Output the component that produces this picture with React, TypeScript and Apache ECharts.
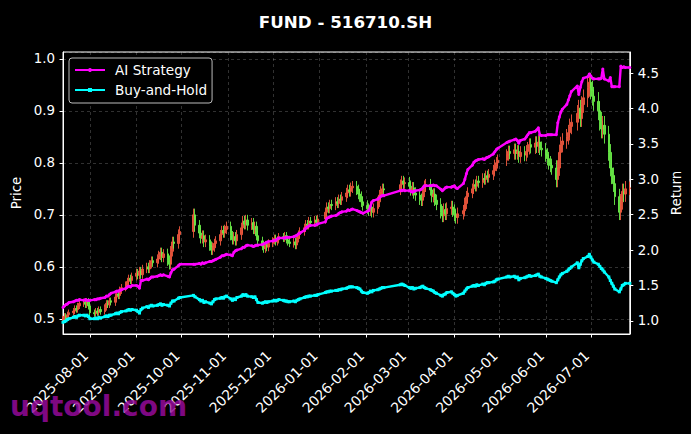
import React, { useEffect, useRef } from "react";
import * as echarts from "echarts";

// ---- data ----
const firstMonday = [2025, 6, 14]; // 2025-07-14 (UTC y, m0, d)
const xMin = "2025-07-14";
const xMax = "2026-07-27";
const holidays = [
  "2025-10-01", "2025-10-02", "2025-10-03", "2025-10-06", "2025-10-07", "2025-10-08",
  "2026-01-01", "2026-01-02",
  "2026-02-16", "2026-02-17", "2026-02-18", "2026-02-19", "2026-02-20", "2026-02-23",
  "2026-04-06", "2026-05-01", "2026-05-04", "2026-05-05", "2026-06-19",
];
const firstOpen = 0.498;

// daily closes, one row per trading week
const closeWeeks: number[][] = [
  [0.500, 0.505, 0.502, 0.508, 0.512],
  [0.515, 0.520, 0.518, 0.525, 0.530],
  [0.532, 0.528, 0.533, 0.525, 0.512],
  [0.510, 0.515, 0.512, 0.518, 0.514],
  [0.522, 0.530, 0.527, 0.535, 0.532],
  [0.542, 0.548, 0.545, 0.555, 0.560],
  [0.565, 0.572, 0.578, 0.574, 0.582],
  [0.588, 0.584, 0.592, 0.585, 0.596],
  [0.600, 0.596, 0.605, 0.612, 0.608],
  [0.615, 0.622, 0.628, 0.618, 0.625],
  [0.612, 0.605, 0.630, 0.648, 0.645],
  [0.662, 0.668],
  [0.700, 0.680],
  [0.665, 0.655, 0.660, 0.648, 0.652],
  [0.640, 0.632, 0.638, 0.645, 0.650],
  [0.662, 0.670, 0.665, 0.672, 0.678],
  [0.660, 0.652, 0.658, 0.650, 0.662],
  [0.675, 0.688, 0.682, 0.690, 0.680],
  [0.685, 0.672, 0.678, 0.660, 0.650],
  [0.640, 0.635, 0.642, 0.638, 0.645],
  [0.650, 0.655, 0.648, 0.652, 0.658],
  [0.655, 0.660, 0.652, 0.648, 0.645],
  [0.648, 0.642, 0.655, 0.662, 0.668],
  [0.675, 0.682, 0.680, 0.688, 0.685],
  [0.690, 0.686, 0.692],
  [0.705, 0.715, 0.712, 0.720, 0.718],
  [0.725, 0.722, 0.730, 0.728, 0.735],
  [0.742, 0.748, 0.745, 0.752, 0.755],
  [0.748, 0.740, 0.735, 0.725, 0.718],
  [0.712, 0.708, 0.715, 0.705, 0.712],
  [0.725, 0.738, 0.745, 0.750, 0.748],
  [],
  [0.758, 0.765, 0.760, 0.762],
  [0.755, 0.748, 0.752, 0.742, 0.738],
  [0.730, 0.728, 0.745, 0.755, 0.758],
  [0.748, 0.735, 0.740, 0.728, 0.720],
  [0.705, 0.698, 0.710, 0.702, 0.712],
  [0.715, 0.708, 0.700, 0.695, 0.702],
  [0.708, 0.722, 0.735, 0.742],
  [0.750, 0.758, 0.755, 0.765, 0.762],
  [0.770, 0.768, 0.775, 0.772, 0.778],
  [0.785, 0.795, 0.800, 0.805],
  [0.815, 0.822, 0.818],
  [0.825, 0.818, 0.822, 0.812, 0.820],
  [0.815, 0.822, 0.828, 0.835, 0.830],
  [0.838, 0.832, 0.840, 0.828, 0.825],
  [0.815, 0.808, 0.800, 0.795, 0.790],
  [0.768, 0.790, 0.820, 0.835, 0.842],
  [0.850, 0.858, 0.870, 0.878],
  [0.895, 0.905, 0.885, 0.912, 0.925],
  [0.945, 0.955, 0.940, 0.928, 0.918],
  [0.900, 0.880, 0.865, 0.872, 0.855],
  [0.820, 0.790, 0.775, 0.760, 0.735],
  [0.705, 0.725, 0.745, 0.740, 0.750],
  [0.752],
];

// typical wick length per week
const weekWicks = [
  0.006, 0.006, 0.007, 0.006, 0.006, 0.007, 0.007, 0.008, 0.008, 0.009,
  0.010, 0.010, 0.012, 0.010, 0.009, 0.009, 0.009, 0.010, 0.009, 0.008,
  0.007, 0.007, 0.008, 0.008, 0.008, 0.009, 0.009, 0.010, 0.010, 0.010,
  0.010, 0.000, 0.010, 0.011, 0.011, 0.011, 0.012, 0.012, 0.011, 0.010,
  0.010, 0.011, 0.011, 0.012, 0.012, 0.013, 0.013, 0.015, 0.015, 0.016,
  0.018, 0.018, 0.016, 0.015, 0.012,
];

// AI Strategy cumulative return, per trading day
const strategyWeeks: number[][] = [
  [1.19, 1.21, 1.23, 1.24, 1.26],
  [1.27, 1.28, 1.29, 1.29, 1.30],
  [1.29, 1.30, 1.29, 1.29, 1.29],
  [1.30, 1.30, 1.31, 1.31, 1.32],
  [1.33, 1.35, 1.35, 1.37, 1.39],
  [1.41, 1.42, 1.42, 1.43, 1.44],
  [1.46, 1.48, 1.49, 1.48, 1.50],
  [1.50, 1.49, 1.46, 1.57, 1.57],
  [1.59, 1.58, 1.60, 1.62, 1.62],
  [1.63, 1.64, 1.65, 1.64, 1.65],
  [1.63, 1.62, 1.68, 1.72, 1.73],
  [1.78, 1.80],
  [1.80, 1.80],
  [1.81, 1.80, 1.82, 1.81, 1.82],
  [1.84, 1.84, 1.85, 1.86, 1.87],
  [1.90, 1.92, 1.92, 1.93, 1.94],
  [1.93, 1.92, 1.97, 1.99, 2.00],
  [2.02, 2.04, 2.04, 2.06, 2.07],
  [2.06, 2.05, 2.06, 2.07, 2.07],
  [2.08, 2.09, 2.10, 2.11, 2.12],
  [2.13, 2.14, 2.14, 2.16, 2.17],
  [2.17, 2.17, 2.18, 2.18, 2.18],
  [2.19, 2.20, 2.21, 2.23, 2.24],
  [2.28, 2.31, 2.33, 2.34, 2.35],
  [2.35, 2.36, 2.37],
  [2.40, 2.45, 2.46, 2.47, 2.48],
  [2.49, 2.50, 2.52, 2.53, 2.54],
  [2.55, 2.57, 2.56, 2.57, 2.58],
  [2.56, 2.55, 2.54, 2.53, 2.52],
  [2.55, 2.56, 2.62, 2.68, 2.70],
  [2.72, 2.74, 2.76, 2.77, 2.77],
  [],
  [2.84, 2.84, 2.85, 2.84],
  [2.84, 2.83, 2.82, 2.83, 2.84],
  [2.85, 2.86, 2.88, 2.91, 2.91],
  [2.91, 2.91, 2.92, 2.91, 2.91],
  [2.86, 2.84, 2.86, 2.88, 2.89],
  [2.89, 2.90, 2.91, 2.88, 2.87],
  [2.94, 3.00, 3.08, 3.14],
  [3.20, 3.24, 3.26, 3.27, 3.28],
  [3.29, 3.28, 3.30, 3.31, 3.32],
  [3.36, 3.39, 3.42, 3.44],
  [3.52, 3.53, 3.54],
  [3.56, 3.57, 3.55, 3.51, 3.55],
  [3.57, 3.60, 3.63, 3.66, 3.66],
  [3.68, 3.70, 3.73, 3.63, 3.62],
  [3.62, 3.63, 3.63, 3.63, 3.63],
  [3.63, 3.80, 3.88, 3.95, 3.99],
  [4.06, 4.12, 4.18, 4.24],
  [4.32, 4.20, 4.30, 4.38, 4.43],
  [4.45, 4.49, 4.46, 4.43, 4.42],
  [4.42, 4.42, 4.43, 4.56, 4.42],
  [4.39, 4.44, 4.31, 4.31, 4.31],
  [4.31, 4.60, 4.58, 4.59, 4.58],
  [4.58],
];

// Buy-and-Hold cumulative return, per trading day
const holdWeeks: number[][] = [
  [0.98, 0.99, 1.00, 1.02, 1.03],
  [1.05, 1.06, 1.05, 1.07, 1.08],
  [1.08, 1.07, 1.08, 1.06, 1.03],
  [1.03, 1.04, 1.03, 1.05, 1.04],
  [1.06, 1.07, 1.06, 1.08, 1.08],
  [1.10, 1.11, 1.10, 1.12, 1.13],
  [1.14, 1.15, 1.16, 1.15, 1.16],
  [1.15, 1.13, 1.11, 1.16, 1.18],
  [1.20, 1.19, 1.21, 1.22, 1.21],
  [1.22, 1.23, 1.24, 1.22, 1.23],
  [1.22, 1.21, 1.25, 1.28, 1.28],
  [1.32, 1.33],
  [1.36, 1.34],
  [1.30, 1.28, 1.29, 1.26, 1.27],
  [1.25, 1.24, 1.27, 1.30, 1.31],
  [1.32, 1.33, 1.32, 1.34, 1.35],
  [1.31, 1.29, 1.31, 1.30, 1.33],
  [1.35, 1.37, 1.36, 1.37, 1.35],
  [1.34, 1.33, 1.34, 1.30, 1.26],
  [1.25, 1.26, 1.27, 1.26, 1.27],
  [1.28, 1.29, 1.28, 1.29, 1.30],
  [1.29, 1.28, 1.28, 1.27, 1.27],
  [1.28, 1.27, 1.29, 1.30, 1.31],
  [1.33, 1.34, 1.34, 1.35, 1.35],
  [1.36, 1.36, 1.37],
  [1.40, 1.41, 1.41, 1.42, 1.42],
  [1.43, 1.43, 1.44, 1.44, 1.45],
  [1.46, 1.47, 1.48, 1.48, 1.48],
  [1.47, 1.46, 1.45, 1.42, 1.40],
  [1.39, 1.40, 1.42, 1.41, 1.43],
  [1.44, 1.45, 1.46, 1.47, 1.47],
  [],
  [1.51, 1.52, 1.51, 1.50],
  [1.47, 1.46, 1.47, 1.45, 1.46],
  [1.47, 1.48, 1.49, 1.47, 1.46],
  [1.44, 1.43, 1.42, 1.40, 1.39],
  [1.36, 1.35, 1.37, 1.38, 1.40],
  [1.41, 1.39, 1.37, 1.35, 1.36],
  [1.39, 1.42, 1.45, 1.47],
  [1.49, 1.50, 1.49, 1.51, 1.50],
  [1.52, 1.51, 1.53, 1.54, 1.54],
  [1.55, 1.56, 1.58, 1.59],
  [1.62, 1.63, 1.62],
  [1.63, 1.61, 1.62, 1.58, 1.60],
  [1.61, 1.62, 1.63, 1.64, 1.63],
  [1.64, 1.65, 1.66, 1.63, 1.62],
  [1.60, 1.59, 1.58, 1.57, 1.56],
  [1.54, 1.58, 1.62, 1.65, 1.67],
  [1.70, 1.72, 1.74, 1.76],
  [1.82, 1.75, 1.80, 1.85, 1.88],
  [1.91, 1.94, 1.90, 1.86, 1.83],
  [1.80, 1.77, 1.74, 1.72, 1.69],
  [1.62, 1.57, 1.53, 1.49, 1.45],
  [1.41, 1.45, 1.50, 1.51, 1.53],
  [1.53],
];

const titleText = "FUND - 516710.SH";
const seriesNames = ["AI Strategy", "Buy-and-Hold"];
const watermark = "uqtool.com";

// ---- build daily tables ----
const DAY = 86400000;
function fmtUTC(t: number) {
  const d = new Date(t);
  return (
    d.getUTCFullYear() +
    "-" +
    String(d.getUTCMonth() + 1).padStart(2, "0") +
    "-" +
    String(d.getUTCDate()).padStart(2, "0")
  );
}
const dates: string[] = [];
const closes: number[] = [];
const wicks: number[] = [];
const strategy: number[] = [];
const hold: number[] = [];
{
  const base = Date.UTC(firstMonday[0], firstMonday[1], firstMonday[2]);
  closeWeeks.forEach((row, w) => {
    let k = 0;
    for (let d = 0; d < 5 && k < row.length; d++) {
      const s = fmtUTC(base + (w * 7 + d) * DAY);
      if (holidays.includes(s)) continue;
      dates.push(s);
      closes.push(row[k]);
      wicks.push(weekWicks[w] ?? 0.01);
      strategy.push(strategyWeeks[w]?.[k] ?? strategyWeeks[w]?.[strategyWeeks[w].length - 1]);
      hold.push(holdWeeks[w]?.[k] ?? holdWeeks[w]?.[holdWeeks[w].length - 1]);
      k++;
    }
  });
}

const FONT = "DejaVu Sans";
const FS = 13.9;
const FS_Y = 13.4;
const RED = "#f0583e";
const GREEN = "#6aee48";

export default function App() {
  const ref = useRef<HTMLDivElement>(null);
  useEffect(() => {
    if (!ref.current) return;
    const chart = echarts.init(ref.current, null, { renderer: "svg" });

    const candles = dates.map((d, i) => {
      const o = i === 0 ? firstOpen : closes[i - 1];
      const c = closes[i];
      const w = wicks[i];
      return [d, o, c, Math.min(o, c) - w, Math.max(o, c) + w];
    });
    const stratData = dates.map((d, i) => [d, strategy[i]]);
    const holdData = dates.map((d, i) => [d, hold[i]]);

    const gridLine = {
      show: true,
      lineStyle: { color: "rgba(255,255,255,0.28)", type: [3, 3] as any, width: 0.7 },
    };

    chart.setOption({
      animation: false,
      backgroundColor: "#000",
      textStyle: { fontFamily: FONT },
      title: {
        text: titleText,
        left: "center",
        top: 8,
        textStyle: { color: "#fff", fontSize: 16.7, fontWeight: "bold", fontFamily: FONT },
      },
      legend: {
        orient: "vertical",
        left: 69,
        top: 58,
        padding: [5, 5, 6, 5],
        itemWidth: 30,
        itemHeight: 5,
        itemGap: 6,
        backgroundColor: "#000",
        borderColor: "rgba(220,220,220,0.85)",
        borderWidth: 1,
        borderRadius: 3,
        textStyle: { color: "#fff", fontSize: 13.6, fontFamily: FONT, padding: [0, 0, 0, 5] },
        data: seriesNames,
      },
      grid: {
        left: 63,
        top: 52,
        width: 568,
        height: 282,
        show: true,
        borderColor: "#fff",
        borderWidth: 1,
        backgroundColor: "#000",
        containLabel: false,
      },
      xAxis: {
        type: "time",
        min: xMin,
        max: xMax,
        splitNumber: 12,
        minInterval: 28 * DAY,
        maxInterval: 31 * DAY,
        axisLine: { show: true, lineStyle: { color: "#fff", width: 1 } },
        axisTick: { show: true, length: 3.5, lineStyle: { color: "#fff" } },
        minorTick: { show: false },
        splitLine: gridLine,
        axisLabel: {
          color: "#fff",
          fontSize: FS,
          fontFamily: FONT,
          rotate: 45,
          margin: 15,
          padding: [0, 6, 0, 0],
          hideOverlap: false,
          formatter: (v: number) => {
            const d = new Date(v);
            return (
              d.getFullYear() +
              "-" +
              String(d.getMonth() + 1).padStart(2, "0") +
              "-" +
              String(d.getDate()).padStart(2, "0")
            );
          },
        },
      },
      yAxis: [
        {
          type: "value",
          position: "left",
          min: 0.471,
          max: 1.013,
          splitNumber: 5,
          name: "Price",
          nameLocation: "middle",
          nameRotate: 90,
          nameGap: 38,
          nameTextStyle: { color: "#fff", fontSize: FS_Y, fontFamily: FONT },
          axisLine: { show: true, lineStyle: { color: "#fff", width: 1 } },
          axisTick: { show: true, length: 3.5, lineStyle: { color: "#fff" } },
          splitLine: gridLine,
          axisLabel: {
            color: "#fff",
            fontSize: FS_Y,
            fontFamily: FONT,
            margin: 8,
            showMinLabel: false,
            showMaxLabel: false,
            formatter: (v: number) => v.toFixed(1),
          },
        },
        {
          type: "value",
          position: "right",
          min: 0.814,
          max: 4.8,
          splitNumber: 8,
          name: "Return",
          nameLocation: "middle",
          nameRotate: 90,
          nameGap: 31,
          nameTextStyle: { color: "#fff", fontSize: FS_Y, fontFamily: FONT },
          axisLine: { show: true, lineStyle: { color: "#fff", width: 1 } },
          axisTick: { show: true, length: 3.5, lineStyle: { color: "#fff" } },
          splitLine: { show: false },
          axisLabel: {
            color: "#fff",
            fontSize: FS_Y,
            fontFamily: FONT,
            margin: 8,
            showMinLabel: false,
            showMaxLabel: false,
            formatter: (v: number) => v.toFixed(1),
          },
        },
      ],
      series: [
        {
          type: "candlestick",
          name: "Price",
          xAxisIndex: 0,
          yAxisIndex: 0,
          barWidth: 2,
          encode: { x: 0, y: [1, 2, 3, 4] },
          itemStyle: {
            color: RED,
            color0: GREEN,
            borderColor: RED,
            borderColor0: GREEN,
            borderWidth: 1,
            opacity: 0.9,
          },
          data: candles,
          z: 2,
        },
        {
          type: "line",
          name: seriesNames[0],
          yAxisIndex: 1,
          data: stratData,
          symbol: "circle",
          symbolSize: 3,
          showSymbol: true,
          showAllSymbol: true,
          lineStyle: { color: "#ff00ff", width: 2.4 },
          itemStyle: { color: "#ff00ff" },
          z: 4,
        },
        {
          type: "line",
          name: seriesNames[1],
          yAxisIndex: 1,
          data: holdData,
          symbol: "rect",
          symbolSize: 3,
          showSymbol: true,
          showAllSymbol: true,
          lineStyle: { color: "#00ffff", width: 2.4 },
          itemStyle: { color: "#00ffff" },
          z: 4,
        },
      ],
      graphic: [
        {
          type: "text",
          left: 10,
          top: 392,
          z: 100,
          style: {
            text: watermark,
            fill: "rgba(150,10,155,0.85)",
            font: "bold 28px 'DejaVu Sans'",
          },
        },
      ],
    });
    return () => chart.dispose();
  }, []);
  return (
    <div
      ref={ref}
      style={{ position: "fixed", left: 0, top: 0, width: 691, height: 434, background: "#000" }}
    />
  );
}
